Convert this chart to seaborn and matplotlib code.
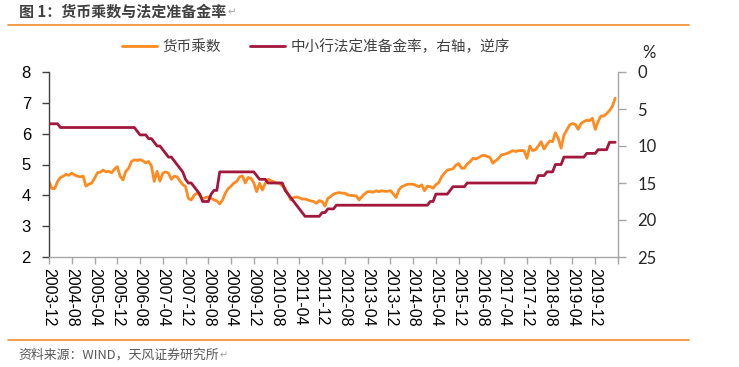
import numpy as np
import pandas as pd
import matplotlib
matplotlib.use("Agg")
import matplotlib.pyplot as plt
import seaborn as sns
from matplotlib.lines import Line2D

# ---------------- data (monthly, 2003-12 .. 2020-07) ----------------
money_multiplier = [
    4.45,
    4.22, 4.22, 4.45, 4.58, 4.62, 4.68, 4.65, 4.72, 4.66, 4.62, 4.60, 4.62,   # 2004
    4.30, 4.36, 4.40, 4.55, 4.73, 4.75, 4.82, 4.76, 4.78, 4.73, 4.85, 4.93,   # 2005
    4.62, 4.50, 4.78, 4.88, 5.10, 5.15, 5.13, 5.16, 5.12, 5.05, 5.10, 4.95,   # 2006
    4.45, 4.78, 4.46, 4.72, 4.76, 4.72, 4.52, 4.62, 4.60, 4.47, 4.35, 4.28,   # 2007
    3.90, 3.85, 4.00, 4.07, 4.00, 3.88, 3.93, 3.95, 3.90, 3.85, 3.82, 3.72,   # 2008
    3.85, 4.07, 4.22, 4.30, 4.40, 4.45, 4.60, 4.63, 4.40, 4.58, 4.55, 4.40,   # 2009
    4.12, 4.39, 4.17, 4.39, 4.52, 4.48, 4.44, 4.40, 4.40, 4.30, 4.23, 4.05,   # 2010
    3.85, 3.93, 3.95, 3.92, 3.88, 3.88, 3.85, 3.82, 3.80, 3.74, 3.83, 3.80,   # 2011
    3.65, 3.90, 3.96, 4.04, 4.07, 4.09, 4.07, 4.07, 4.01, 4.00, 3.99, 3.98,   # 2012
    3.85, 3.96, 4.05, 4.12, 4.12, 4.10, 4.15, 4.12, 4.15, 4.13, 4.13, 4.15,   # 2013
    4.05, 3.93, 4.18, 4.28, 4.32, 4.36, 4.36, 4.36, 4.32, 4.28, 4.34, 4.15,   # 2014
    4.30, 4.28, 4.23, 4.35, 4.41, 4.60, 4.72, 4.82, 4.84, 4.86, 4.98, 5.03,   # 2015
    4.88, 4.88, 5.02, 5.09, 5.20, 5.18, 5.22, 5.28, 5.30, 5.26, 5.23, 5.04,   # 2016
    5.12, 5.20, 5.31, 5.33, 5.36, 5.40, 5.45, 5.42, 5.45, 5.45, 5.45, 5.20,   # 2017
    5.60, 5.45, 5.48, 5.60, 5.74, 5.50, 5.65, 5.76, 5.74, 6.03, 5.85, 5.53,   # 2018
    5.95, 6.12, 6.28, 6.33, 6.30, 6.14, 6.33, 6.39, 6.44, 6.42, 6.50, 6.14,   # 2019
    6.39, 6.57, 6.57, 6.65, 6.75, 6.88, 7.15,                                 # 2020
]

reserve_ratio = [
    7.0,
    7.0, 7.0, 7.0, 7.5, 7.5, 7.5, 7.5, 7.5, 7.5, 7.5, 7.5, 7.5,               # 2004
    7.5, 7.5, 7.5, 7.5, 7.5, 7.5, 7.5, 7.5, 7.5, 7.5, 7.5, 7.5,               # 2005
    7.5, 7.5, 7.5, 7.5, 7.5, 7.5, 8.0, 8.5, 8.5, 8.5, 9.0, 9.0,               # 2006
    9.5, 10.0, 10.0, 10.5, 11.0, 11.5, 11.5, 12.0, 12.5, 13.0, 13.5, 14.5,    # 2007
    15.0, 15.0, 15.5, 16.0, 16.5, 17.5, 17.5, 17.5, 16.5, 16.0, 16.0, 13.5,   # 2008
    13.5, 13.5, 13.5, 13.5, 13.5, 13.5, 13.5, 13.5, 13.5, 13.5, 13.5, 13.5,   # 2009
    14.0, 14.5, 14.5, 14.5, 15.0, 15.0, 15.0, 15.0, 15.0, 15.0, 16.0, 16.5,   # 2010
    17.0, 17.5, 18.0, 18.5, 19.0, 19.5, 19.5, 19.5, 19.5, 19.5, 19.5, 19.0,   # 2011
    19.0, 18.5, 18.5, 18.5, 18.0, 18.0, 18.0, 18.0, 18.0, 18.0, 18.0, 18.0,   # 2012
    18.0, 18.0, 18.0, 18.0, 18.0, 18.0, 18.0, 18.0, 18.0, 18.0, 18.0, 18.0,   # 2013
    18.0, 18.0, 18.0, 18.0, 18.0, 18.0, 18.0, 18.0, 18.0, 18.0, 18.0, 18.0,   # 2014
    18.0, 17.5, 17.5, 16.5, 16.5, 16.5, 16.5, 16.5, 16.0, 15.5, 15.5, 15.5,   # 2015
    15.5, 15.5, 15.0, 15.0, 15.0, 15.0, 15.0, 15.0, 15.0, 15.0, 15.0, 15.0,   # 2016
    15.0, 15.0, 15.0, 15.0, 15.0, 15.0, 15.0, 15.0, 15.0, 15.0, 15.0, 15.0,   # 2017
    15.0, 15.0, 15.0, 14.0, 14.0, 14.0, 13.5, 13.5, 13.5, 12.5, 12.5, 12.5,   # 2018
    11.5, 11.5, 11.5, 11.5, 11.5, 11.5, 11.5, 11.5, 11.0, 11.0, 11.0, 11.0,   # 2019
    10.5, 10.5, 10.5, 10.5, 9.5, 9.5, 9.5,                                    # 2020
]

tick_labels = ["2003-12", "2004-08", "2005-04", "2005-12", "2006-08", "2007-04",
               "2007-12", "2008-08", "2009-04", "2009-12", "2010-08", "2011-04",
               "2011-12", "2012-08", "2013-04", "2013-12", "2014-08", "2015-04",
               "2015-12", "2016-08", "2017-04", "2017-12", "2018-08", "2019-04",
               "2019-12", ""]

left_ticks = [2, 3, 4, 5, 6, 7, 8]
right_ticks = [0, 5, 10, 15, 20, 25]

title = "图 1：货币乘数与法定准备金率"
series_names = ["货币乘数", "中小行法定准备金率，右轴，逆序"]
source = "资料来源：WIND，天风证券研究所"

# ---------------- style ----------------
sns.set_theme(style="white")
CJK = ["Noto Sans CJK SC", "DejaVu Sans"]
plt.rcParams["font.family"] = CJK

ORANGE = "#FF8A1F"
RED = "#A3173D"

n = len(money_multiplier)
df = pd.DataFrame({"idx": np.arange(n),
                   "mm": money_multiplier,
                   "rrr": reserve_ratio})

fig = plt.figure(figsize=(7.39, 3.67), dpi=100)
ax = fig.add_axes([49/739, 1-257/367, (618-49)/739, (257-72)/367])
ax2 = ax.twinx()

sns.lineplot(data=df, x="idx", y="mm", ax=ax, color=ORANGE, linewidth=2.0)
sns.lineplot(data=df, x="idx", y="rrr", ax=ax2, color=RED, linewidth=2.0)

ax.set_xlim(0, 200)
ax.set_ylim(2, 8)
ax2.set_ylim(25, 0)
ax.set_xlabel("")
ax.set_ylabel("")
ax2.set_ylabel("")

ax.set_xticks(np.arange(0, 201, 8))
ax.set_xticklabels(tick_labels, rotation=-90, fontsize=11.5,
                   family=["Liberation Sans"], color="#000000")
ax.set_yticks(left_ticks)
ax.set_yticklabels([str(t) for t in left_ticks], fontsize=12,
                   family=["Liberation Sans"], color="#000000")
ax2.set_yticks(right_ticks)
ax2.set_yticklabels([str(t) for t in right_ticks], fontsize=12,
                    family=["Lato"], color="#262626")

for a in (ax, ax2):
    a.spines["top"].set_visible(False)
    a.grid(False)
ax.spines["right"].set_visible(False)
ax2.spines["left"].set_visible(False)
ax2.spines["bottom"].set_visible(False)
ax.spines["left"].set_color("#404040")
ax.spines["bottom"].set_color("#A6A6A6")
ax2.spines["right"].set_color("#A6A6A6")
for s in ("left", "bottom"):
    ax.spines[s].set_linewidth(1.0)
ax2.spines["right"].set_linewidth(1.0)

ax.tick_params(axis="y", left=True, length=5, width=1.0, color="#404040",
               direction="out", pad=8)
ax.tick_params(axis="x", bottom=True, length=5, width=1.0, color="#A6A6A6",
               direction="out", pad=3)
ax2.tick_params(axis="y", right=True, length=6, width=1.0, color="#A6A6A6",
                direction="out", pad=8)

# legend
handles = [Line2D([0], [0], color=ORANGE, lw=2.0),
           Line2D([0], [0], color=RED, lw=2.0)]
fig.legend(handles, series_names, loc="center", bbox_to_anchor=(316/739, 1-47/367),
           ncol=2, frameon=False, fontsize=10.5, handlelength=2.4,
           handletextpad=0.4, columnspacing=2.0,
           labelcolor="#404040", prop={"family": CJK, "size": 10.5})

# % unit label
fig.text(649/739, 1-53/367, "%", ha="center", va="center", fontsize=12,
         family=["Lato"], color="#262626")

# title and source, each followed by a small paragraph mark
t_title = fig.text(19/739, 1-12/367, title, ha="left", va="center", fontsize=10.8,
                   fontweight="bold", color="#404040", family=CJK)
t_src = fig.text(18/739, 1-355/367, source, ha="left", va="center", fontsize=9.3,
                 color="#595959", family=CJK)
fig.canvas.draw()
for t, fs in ((t_title, 7.5), (t_src, 7)):
    bb = t.get_window_extent()
    fig.text((bb.x1 + 1) / fig.bbox.width, (bb.y0 + bb.y1) / 2 / fig.bbox.height,
             "\u21b5", ha="left", va="center", fontsize=fs, color="#A0A0A0",
             family=["DejaVu Sans"])

# orange rule lines
fig.add_artist(Line2D([8/739, 689/739], [1-25/367, 1-25/367],
                      color="#F08A2C", lw=1.2, transform=fig.transFigure))
fig.add_artist(Line2D([8/739, 689/739], [1-340/367, 1-340/367],
                      color="#F08A2C", lw=1.2, transform=fig.transFigure))

fig.savefig("out.png", dpi=100, facecolor="white")
